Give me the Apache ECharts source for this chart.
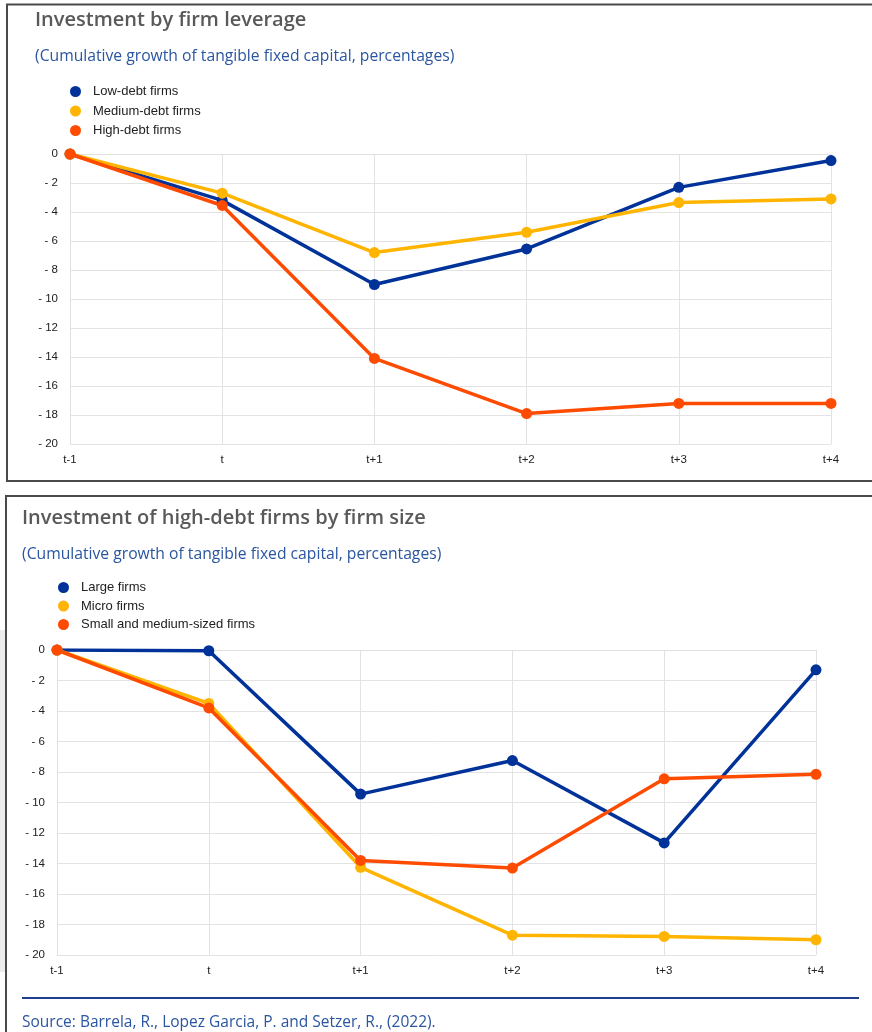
<!DOCTYPE html>
<html>
<head>
<meta charset="utf-8">
<script src="https://cdn.jsdelivr.net/npm/echarts@6/dist/echarts.min.js"></script>
<style>
html,body{margin:0;padding:0;background:#fff;}
#chart{width:872px;height:1032px;}
</style>
</head>
<body>
<div id="chart"></div>
<script>
var categories = ['t-1', 't', 't+1', 't+2', 't+3', 't+4'];
var yTicks = [0, -2, -4, -6, -8, -10, -12, -14, -16, -18, -20];

// Chart 1: Investment by firm leverage
var lowDebt = [0, -3.2, -9.0, -6.55, -2.3, -0.45];
var mediumDebt = [0, -2.7, -6.8, -5.4, -3.35, -3.1];
var highDebt = [0, -3.55, -14.1, -17.9, -17.2, -17.2];

// Chart 2: Investment of high-debt firms by firm size
var largeFirms = [0, -0.05, -9.45, -7.25, -12.65, -1.3];
var microFirms = [0, -3.5, -14.25, -18.7, -18.78, -19.0];
var smeFirms = [0, -3.8, -13.8, -14.3, -8.45, -8.15];

var BLUE = '#003299', YELLOW = '#ffb400', ORANGE = '#ff4b00';
var FONT = 'Liberation Sans, Arial, sans-serif';
var TFONT = 'Open Sans, sans-serif';

function yAxis(gi) {
  return {
    type: 'value', gridIndex: gi, min: -20, max: 0, interval: 2,
    axisLine: {show: true, lineStyle: {color: '#e0e0e0', width: 1}},
    axisTick: {show: false},
    splitLine: {show: true, lineStyle: {color: '#e3e3e3', width: 1}},
    axisLabel: {
      color: '#222', fontFamily: FONT, fontSize: 11.5, margin: 12,
      formatter: function (v) { return v < 0 ? '- ' + Math.abs(v) : String(v); }
    }
  };
}
function xAxis(gi) {
  return {
    type: 'category', gridIndex: gi, data: categories, boundaryGap: false,
    axisLine: {show: true, lineStyle: {color: '#e0e0e0', width: 1}},
    axisTick: {show: false},
    splitLine: {show: true, lineStyle: {color: '#e3e3e3', width: 1}},
    axisLabel: {color: '#222', fontFamily: FONT, fontSize: 11.5, margin: 10}
  };
}
function line(name, data, color, gi) {
  return {
    name: name, type: 'line', data: data, xAxisIndex: gi, yAxisIndex: gi,
    symbol: 'circle', symbolSize: 11, smooth: false,
    itemStyle: {color: color},
    lineStyle: {color: color, width: 3.5},
    emphasis: {disabled: true}
  };
}

var chart = echarts.init(document.getElementById('chart'), null, {renderer: 'canvas'});
chart.setOption({
  animation: false,
  backgroundColor: '#fff',
  title: [
    {text: 'Investment by firm leverage', left: 30, top: 5,
     textStyle: {color: '#595959', fontFamily: TFONT, fontSize: 20, fontWeight: 600}},
    {text: '(Cumulative growth of tangible fixed capital, percentages)', left: 30, top: 44,
     textStyle: {color: '#2a55a0', fontFamily: TFONT, fontSize: 15.7, fontWeight: 'normal'}},
    {text: 'Investment of high-debt firms by firm size', left: 17, top: 503,
     textStyle: {color: '#595959', fontFamily: TFONT, fontSize: 20, fontWeight: 600}},
    {text: '(Cumulative growth of tangible fixed capital, percentages)', left: 17, top: 542,
     textStyle: {color: '#2a55a0', fontFamily: TFONT, fontSize: 15.7, fontWeight: 'normal'}},
    {text: 'Source: Barrela, R., Lopez Garcia, P. and Setzer, R., (2022).', left: 17, top: 1010,
     textStyle: {color: '#2a55a0', fontFamily: TFONT, fontSize: 15.5, fontWeight: 'normal'}}
  ],
  legend: [
    {data: ['Low-debt firms', 'Medium-debt firms', 'High-debt firms'],
     orient: 'vertical', left: 65, top: 80, itemWidth: 11, itemHeight: 11, itemGap: 6.5,
     icon: 'circle', selectedMode: false,
     textStyle: {color: '#222', fontFamily: FONT, fontSize: 13, lineHeight: 12, padding: [0, 0, 0, 7]}},
    {data: ['Large firms', 'Micro firms', 'Small and medium-sized firms'],
     orient: 'vertical', left: 53, top: 576, itemWidth: 11, itemHeight: 11, itemGap: 5.5,
     icon: 'circle', selectedMode: false,
     textStyle: {color: '#222', fontFamily: FONT, fontSize: 13, lineHeight: 12, padding: [0, 0, 0, 7]}}
  ],
  grid: [
    {left: 70, right: 41, top: 154, height: 290, containLabel: false},
    {left: 57, right: 56, top: 650, height: 305, containLabel: false}
  ],
  xAxis: [xAxis(0), xAxis(1)],
  yAxis: [yAxis(0), yAxis(1)],
  series: [
    line('Low-debt firms', lowDebt, BLUE, 0),
    line('Medium-debt firms', mediumDebt, YELLOW, 0),
    line('High-debt firms', highDebt, ORANGE, 0),
    line('Large firms', largeFirms, BLUE, 1),
    line('Micro firms', microFirms, YELLOW, 1),
    line('Small and medium-sized firms', smeFirms, ORANGE, 1)
  ],
  graphic: [
    {type: 'rect', shape: {x: 0, y: 630, width: 5, height: 342}, style: {fill: '#ececec'}, silent: true, z: -1},
    {type: 'polyline', shape: {points: [[872, 4.5], [7, 4.5], [7, 481], [872, 481]]},
     style: {stroke: '#4a4a4a', lineWidth: 2, fill: null}, silent: true},
    {type: 'polyline', shape: {points: [[872, 496], [6, 496], [6, 1032]]},
     style: {stroke: '#4a4a4a', lineWidth: 2, fill: null}, silent: true},
    {type: 'line', shape: {x1: 22, y1: 998, x2: 859, y2: 998},
     style: {stroke: '#1f3f8c', lineWidth: 2}, silent: true}
  ]
});
</script>
</body>
</html>
